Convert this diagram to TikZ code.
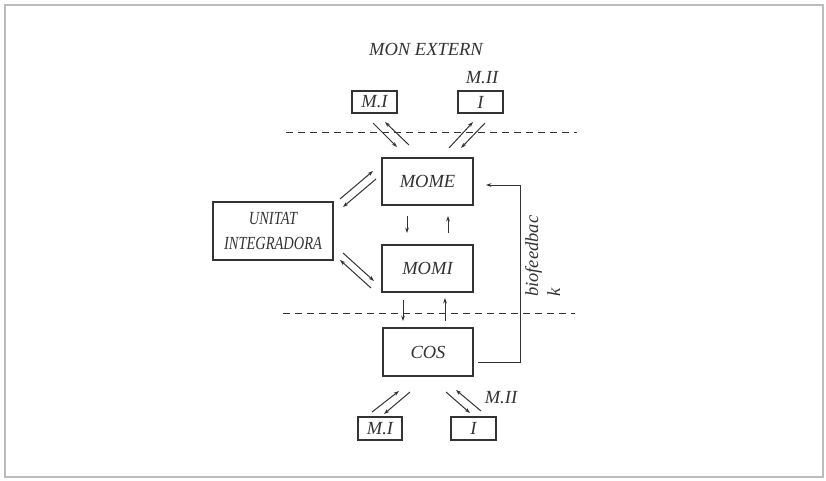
\documentclass[tikz,border=0pt]{standalone}
\usepackage{fontspec}
\setmainfont{Liberation Serif}
\newfontfamily\condfont[FakeStretch=0.78]{Liberation Serif}
\usetikzlibrary{arrows.meta}
\definecolor{ink}{HTML}{333333}
\definecolor{frame}{HTML}{BBBBBB}
\tikzset{
  box/.style={draw=ink, line width=1.4pt, inner sep=0pt, text=ink,
    font=\fontsize{18.5}{22}\selectfont\itshape},
  lbl/.style={inner sep=0pt, text=ink, font=\fontsize{18.5}{22}\selectfont\itshape},
  arr/.style={draw=ink, line width=1pt, -{Stealth[length=5.5pt,width=3.8pt]}},
  sep/.style={draw=ink, line width=1pt, dash pattern=on 7pt off 5pt},
}
\begin{document}
\begin{tikzpicture}[x=1pt,y=-1pt]
\useasboundingbox (0,0) rectangle (826,481);
\draw[frame, line width=1.2pt] (5,5) rectangle (823,477);

% labels
\node[lbl] (mon) at (426,49) {MON EXTERN};
\node[lbl] (m2top) at (482,78) {M.II};
\node[lbl] (m2bot) at (501,398) {M.II};

% boxes
\node[box, minimum width=45pt, minimum height=22pt] (mitop) at (374.5,102) {M.I};
\node[box, minimum width=45pt, minimum height=22pt] (itop) at (480.5,102) {I};
\node[box, minimum width=91pt, minimum height=47pt] (mome) at (427.5,181.5) {MOME};
\node[box, minimum width=91pt, minimum height=47pt] (momi) at (427.5,268.5) {MOMI};
\node[box, minimum width=90pt, minimum height=48pt] (cos) at (428,352) {COS};
\node[box, minimum width=120pt, minimum height=58pt, align=center,
      font=\fontsize{18.5}{25}\selectfont\condfont\itshape] (ui) at (273,231) {UNITAT\\INTEGRADORA};
\node[box, minimum width=44pt, minimum height=23pt] (mibot) at (380,428.5) {M.I};
\node[box, minimum width=45pt, minimum height=23pt] (ibot) at (473.5,428.5) {I};

% separators
\coordinate (s1a) at (286,133); \coordinate (s1b) at (577,133);
\coordinate (s2a) at (283,313); \coordinate (s2b) at (575,313);
\draw[sep] (s1a) -- (s1b);
\draw[sep] (s2a) -- (s2b);

% M.I top <-> MOME
\coordinate (a1) at (373,123); \coordinate (a2) at (397,147);
\coordinate (a3) at (409,145); \coordinate (a4) at (385,122);
\draw[arr] (a1) -- (a2);
\draw[arr] (a3) -- (a4);
% I top <-> MOME
\coordinate (b1) at (449,148); \coordinate (b2) at (473,122);
\coordinate (b3) at (485,123); \coordinate (b4) at (461,148);
\draw[arr] (b1) -- (b2);
\draw[arr] (b3) -- (b4);
% UNITAT <-> MOME
\coordinate (c1) at (340,199); \coordinate (c2) at (373,171);
\coordinate (c3) at (376,179); \coordinate (c4) at (343,207);
\draw[arr] (c1) -- (c2);
\draw[arr] (c3) -- (c4);
% UNITAT <-> MOMI
\coordinate (d1) at (343,253); \coordinate (d2) at (374,281);
\coordinate (d3) at (371,288); \coordinate (d4) at (340,260);
\draw[arr] (d1) -- (d2);
\draw[arr] (d3) -- (d4);
% MOME <-> MOMI
\coordinate (e1) at (407,216); \coordinate (e2) at (407,233);
\coordinate (e3) at (448,233); \coordinate (e4) at (448,216);
\draw[arr] (e1) -- (e2);
\draw[arr] (e3) -- (e4);
% MOMI <-> COS
\coordinate (f1) at (403,300); \coordinate (f2) at (403,321);
\coordinate (f3) at (445,321); \coordinate (f4) at (445,298);
\draw[arr] (f1) -- (f2);
\draw[arr] (f3) -- (f4);
% COS <-> M.I bottom
\coordinate (g1) at (372,412); \coordinate (g2) at (399,391);
\coordinate (g3) at (410,392); \coordinate (g4) at (384,414);
\draw[arr] (g1) -- (g2);
\draw[arr] (g3) -- (g4);
% COS <-> I bottom
\coordinate (h1) at (446,392); \coordinate (h2) at (470,413);
\coordinate (h3) at (481,411); \coordinate (h4) at (456,390);
\draw[arr] (h1) -- (h2);
\draw[arr] (h3) -- (h4);

% biofeedback loop
\coordinate (fb1) at (478,362);
\coordinate (fb2) at (520,185);
\coordinate (fb3) at (486,185);
\draw[arr] (fb1) -| (fb2) -- (fb3);
\node[lbl, rotate=90, anchor=north west, align=left] (bio) at (525,297) {biofeedbac\\k};
\end{tikzpicture}
\end{document}
